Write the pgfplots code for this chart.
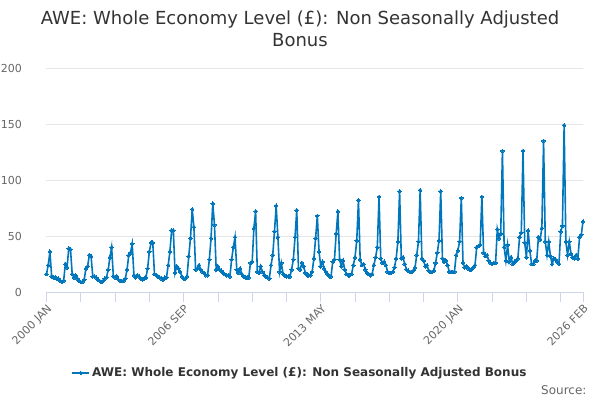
\documentclass[border=0pt]{standalone}
\usepackage{pgfplots}
\pgfplotsset{compat=1.18}
\usepackage{pgfplotstable}
\usepackage{fontspec}
\setmainfont{DejaVu Sans}
\definecolor{series}{HTML}{0076BD}
\definecolor{gridc}{HTML}{E6E6E6}
\definecolor{axc}{HTML}{CCD6EB}
\definecolor{labc}{HTML}{666666}
\definecolor{titc}{HTML}{333333}

% monthly values, 2000 JAN ... 2026 FEB
\pgfplotstableread{
y
16
24
36
14
13
13
12
12
10
9
10
25
22
39
38
16
13
15
12
10
9
9
11
21
23
33
32
14
14
13
11
10
9
10
12
13
20
31
40
14
13
14
11
10
10
10
12
20
33
35
43
15
13
15
14
12
11
12
13
21
36
44
44
16
15
14
13
12
11
13
13
24
36
55
55
17
23
21
18
14
12
12
14
32
48
74
58
20
21
24
20
18
17
15
15
29
48
79
60
20
23
20
19
17
16
15
15
14
29
40
49
20
17
21
16
14
13
13
13
26
27
57
72
18
17
23
18
15
14
13
12
24
33
54
77
49
18
26
16
15
14
14
14
20
29
49
73
21
20
26
23
17
15
15
15
18
30
48
68
36
23
27
21
18
16
14
14
27
29
52
72
29
23
28
20
16
15
15
16
24
31
46
82
29
24
25
20
17
16
15
16
24
31
40
85
30
26
27
24
18
17
17
18
22
30
45
90
30
31
25
20
19
18
18
19
22
33
45
91
30
28
23
24
19
18
18
19
26
35
46
90
30
27
28
24
18
18
18
18
33
37
45
84
26
22
23
21
20
20
22
24
40
41
42
85
35
32
33
28
26
25
26
26
56
48
52
126
40
28
42
27
31
25
27
28
30
49
53
126
44
31
55
37
25
25
28
28
49
47
57
135
45
33
45
32
25
30
29
27
25
54
59
149
45
33
45
34
31
30
33
30
49
51
63
}\awedata

\begin{document}
\begin{tikzpicture}[x=1pt,y=1pt]
\useasboundingbox (0,0) rectangle (600,400);
\node[font=\fontsize{18}{22}\selectfont, text=titc, align=center] at (300,371)
  {AWE: Whole Economy Level (£): Non Seasonally Adjusted\\Bonus};
\begin{axis}[
  at={(46.5pt,108pt)}, anchor=south west,
  scale only axis, width=536.5pt, height=224pt,
  xmin=0, xmax=313, ymin=0, ymax=200,
  axis x line=bottom, axis y line=left,
  axis line style={-},
  x axis line style={draw=axc, line width=0.8pt},
  y axis line style={draw=none},
  ytick={0,50,100,150,200},
  ymajorgrids, major grid style={draw=gridc, line width=0.8pt},
  ytick style={draw=none},
  yticklabel style={font=\fontsize{11}{13}\selectfont, text=labc, xshift=-11pt},
  xtick={0,80,160,240,313},
  xticklabels={2000 JAN,2006 SEP,2013 MAY,2020 JAN,2026 FEB},
  minor xtick={20,40,60,100,120,140,180,200,220,260,280,300},
  tick align=outside,
  major tick length=10pt, minor tick length=10pt,
  xtick style={draw=axc, line width=0.8pt},
  minor tick style={draw=axc, line width=0.8pt},
  xticklabel style={font=\fontsize{11}{13}\selectfont, text=labc, rotate=45, anchor=north east, inner sep=1pt},
  /pgf/number format/assume math mode=true,
  legend style={at={(0.4725,-0.3616)}, anchor=center, draw=none, fill=none,
    font=\bfseries\fontsize{12}{15}\selectfont, text=titc},
  legend cell align=left,
  clip=false,
]
\addplot[color=series, line width=1.6pt, mark=*, mark size=1.8pt,
  mark options={fill=series, draw=series, line width=0pt}]
  table[x expr=\coordindex, y=y] {\awedata};
\addlegendentry{AWE: Whole Economy Level (£): Non Seasonally Adjusted Bonus}
\end{axis}
\node[anchor=east, font=\fontsize{12}{14}\selectfont, text=labc] at (590,10) {Source:};
\end{tikzpicture}
\end{document}
